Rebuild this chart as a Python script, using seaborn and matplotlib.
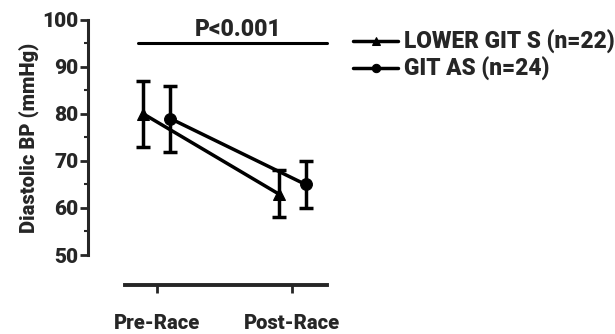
import numpy as np
import pandas as pd
import matplotlib
matplotlib.use("Agg")
import matplotlib.pyplot as plt
import seaborn as sns
from matplotlib.ticker import MultipleLocator

categories = ["Pre-Race", "Post-Race"]
series_names = ["LOWER GIT S (n=22)", "GIT AS (n=24)"]
lower_mean = [80, 63]
lower_err_lo = [73, 58]
lower_err_hi = [87, 68]
as_mean = [79, 65]
as_err_lo = [72, 60]
as_err_hi = [86, 70]
yticks = [50, 60, 70, 80, 90, 100]
p_text = "P<0.001"
p_level = 95

W = 900

sns.set_theme(style="ticks")
plt.rcParams['font.family'] = ['Roboto', 'DejaVu Sans']
plt.rcParams['font.weight'] = W

fig = plt.figure(figsize=(6.15, 3.34), dpi=100)
ax = fig.add_axes([0.143, 0.2365, 0.389, 0.704])

offsets = [-0.1, 0.1]
markers = ["^", "o"]
means = [lower_mean, as_mean]
los = [lower_err_lo, as_err_lo]
his = [lower_err_hi, as_err_hi]

rows = []
for name, off, m in zip(series_names, offsets, means):
    for i, v in enumerate(m):
        rows.append({"series": name, "x": i + off, "y": v})
df = pd.DataFrame(rows)

sns.lineplot(data=df, x="x", y="y", hue="series", style="series",
             markers=dict(zip(series_names, markers)), dashes=False,
             palette=["black", "black"], linewidth=2.5, markersize=8.5,
             markeredgecolor="black", ax=ax, legend=True)

for name, off, m, lo, hi in zip(series_names, offsets, means, los, his):
    xs = np.arange(len(m)) + off
    m = np.array(m); lo = np.array(lo); hi = np.array(hi)
    ax.errorbar(xs, m, yerr=[m - lo, hi - m], fmt="none", ecolor="black",
                elinewidth=2.5, capsize=5, capthick=2.5)

ax.set_xlim(-0.511, 1.26)
ax.set_ylim(50, 100)
ax.set_yticks(yticks)
ax.yaxis.set_minor_locator(MultipleLocator(5))
ax.set_xticks([0, 1])
ax.set_xticklabels(categories)
ax.tick_params(axis="y", labelsize=15, width=2, length=6, direction="out", pad=1)
ax.tick_params(axis="y", which="minor", width=1.5, length=3)
ax.tick_params(axis="x", labelsize=14.5, width=2, length=6, pad=15)
for lab in ax.get_yticklabels() + ax.get_xticklabels():
    lab.set_fontweight(W)

ax.spines["top"].set_visible(False)
ax.spines["right"].set_visible(False)
ax.spines["left"].set_linewidth(2.2)
ax.spines["bottom"].set_linewidth(2.8)
ax.spines["bottom"].set_position(("outward", 21.6))
ax.spines["bottom"].set_bounds(-0.237, 1.26)

ax.set_xlabel("")
ax.set_ylabel("Diastolic BP (mmHg)", fontsize=14.5, fontweight=W, labelpad=2)

ax.plot([-0.137, 1.26], [p_level, p_level], color="black", lw=2.2, clip_on=False)
ax.text(0.6, p_level + 0.6, p_text, ha="center", va="bottom",
        fontsize=16.5, fontweight=W)

handles, labels = ax.get_legend_handles_labels()
for h in handles:
    h.set_markersize(6)
leg = ax.legend(handles, labels, loc="upper left", bbox_to_anchor=(1.07, 0.995),
                frameon=False, fontsize=16.3, handlelength=2.0, handletextpad=0.25,
                labelspacing=0.1, borderaxespad=0)
for t in leg.get_texts():
    t.set_fontweight(W)

fig.savefig("out.png", dpi=100)
